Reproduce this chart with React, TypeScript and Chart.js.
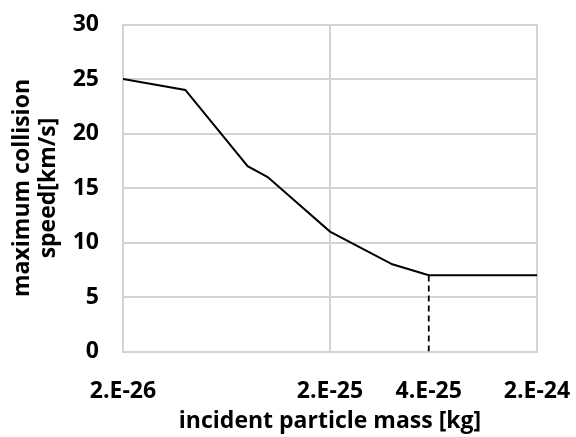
import React, { useEffect, useRef } from "react";
import { Chart, registerables } from "chart.js";

Chart.register(...registerables);

// Data
const masses = [2e-26, 4e-26, 8e-26, 1e-25, 2e-25, 4e-25, 6e-25, 2e-24];
const speeds = [25, 24, 17, 16, 11, 8, 7, 7];
const dashX = [6e-25, 6e-25];
const dashY = [0, 7];
const xTickValues = [2e-26, 2e-25, 6e-25, 2e-24];
const xTickLabels = ["2.E-26", "2.E-25", "4.E-25", "2.E-24"];
const yTitle = ["maximum collision", "speed[km/s]"];
const xTitle = "incident particle mass [kg]";

const FONT = "'Open Sans', 'DejaVu Sans', sans-serif";
const GRID = "#d3d3d3";
const FS = 23;

export default function App() {
  const ref = useRef<HTMLCanvasElement | null>(null);

  useEffect(() => {
    document.body.style.margin = "0";
    const canvas = ref.current;
    if (!canvas) return;
    const chart = new Chart(canvas, {
      type: "line",
      data: {
        datasets: [
          {
            data: masses.map((m, i) => ({ x: m, y: speeds[i] })),
            borderColor: "#000000",
            borderWidth: 2,
            pointRadius: 0,
            tension: 0,
            fill: false,
          },
          {
            data: dashX.map((m, i) => ({ x: m, y: dashY[i] })),
            borderColor: "#000000",
            borderWidth: 1.8,
            borderDash: [6, 4],
            pointRadius: 0,
            fill: false,
          },
        ],
      },
      options: {
        animation: false,
        responsive: true,
        maintainAspectRatio: false,
        layout: { padding: { left: 0, right: 39, top: 24.5, bottom: 0 } },
        plugins: { legend: { display: false }, tooltip: { enabled: false } },
        scales: {
          x: {
            type: "logarithmic",
            min: 2e-26,
            max: 2e-24,
            afterBuildTicks: (scale: any) => {
              scale.ticks = xTickValues.map((v) => ({ value: v }));
            },
            afterFit: (scale: any) => {
              scale.height = 85.5;
              scale.paddingLeft = 0;
              scale.paddingRight = 0;
            },
            ticks: {
              autoSkip: false,
              maxRotation: 0,
              minRotation: 0,
              padding: 26,
              color: "#000000",
              font: { family: FONT, size: FS, weight: "bold", lineHeight: 1.2 },
              callback: (_v: any, i: number) => xTickLabels[i],
            },
            grid: {
              drawTicks: false,
              lineWidth: 2,
              color: (ctx: any) =>
                ctx.tick && ctx.tick.value === 6e-25 ? "rgba(0,0,0,0)" : GRID,
            },
            border: { display: true, color: GRID, width: 2 },
            title: {
              display: true,
              text: xTitle,
              color: "#000000",
              font: { family: FONT, size: FS, weight: "bold", lineHeight: 1.2 },
              padding: { top: 0, bottom: 2 },
            },
          },
          y: {
            min: 0,
            max: 30,
            afterFit: (scale: any) => {
              scale.width = 123;
              scale.paddingTop = 0;
              scale.paddingBottom = 0;
            },
            ticks: {
              stepSize: 5,
              padding: 24,
              color: "#000000",
              font: { family: FONT, size: FS, weight: "bold", lineHeight: 1.2 },
            },
            grid: { drawTicks: false, lineWidth: 2, color: GRID },
            border: { display: true, color: GRID, width: 2 },
            title: {
              display: true,
              text: yTitle,
              color: "#000000",
              font: { family: FONT, size: FS, weight: "bold", lineHeight: 1.15 },
              padding: { top: 9, bottom: 0 },
            },
          },
        },
      },
    });
    return () => chart.destroy();
  }, []);

  return (
    <div style={{ width: 576, height: 437, position: "relative", background: "#ffffff" }}>
      <canvas ref={ref} />
    </div>
  );
}
